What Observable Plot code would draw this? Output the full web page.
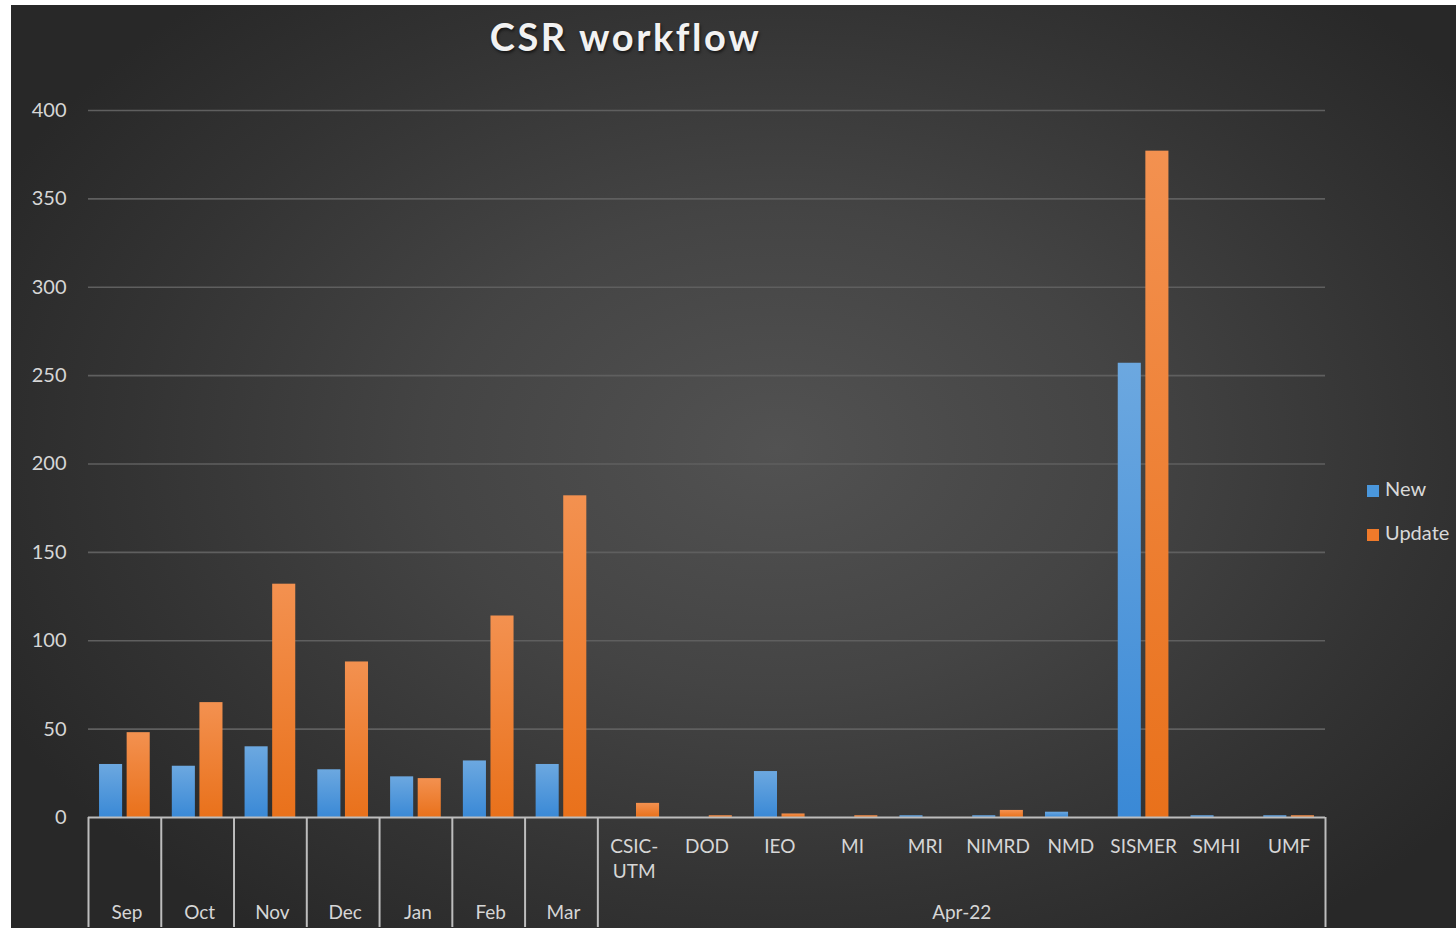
<!DOCTYPE html>
<html>
<head>
<meta charset="utf-8">
<script src="https://cdn.jsdelivr.net/npm/d3@7"></script>
<script src="https://cdn.jsdelivr.net/npm/@observablehq/plot@0.6"></script>
<style>
  html, body { margin: 0; padding: 0; background: #ffffff; }
  #page { position: relative; width: 1456px; height: 935px; overflow: hidden; font-family: Lato, "Open Sans", sans-serif; }
  #bg { position: absolute; left: 11px; top: 5px; width: 1445px; height: 923px;
        background: radial-gradient(ellipse 60% 65% at 53% 48%, #525252 0%, #444444 40%, #333333 75%, #282828 100%); }
  #chart { position: absolute; left: 0; top: 0; }
  #title { position: absolute; left: 0; width: 1251px; top: 14px; text-align: center;
           font-size: 38px; font-weight: 700; letter-spacing: 2.6px; color: #f2f2f2;
           text-shadow: 1px 2px 3px rgba(0,0,0,0.6); line-height: 44px; }
  .leg { position: absolute; left: 1367px; font-size: 20px; color: #d9d9d9; line-height: 24px; white-space: nowrap; }
  .leg span.sw { display: inline-block; width: 12px; height: 12px; margin-right: 6px; vertical-align: -1px; }
</style>
</head>
<body>
<div id="page">
  <div id="bg"></div>
  <div id="title">CSR workflow</div>
  <div id="chart"></div>
</div>
<script>
// ---- data ----
const months = ["Sep", "Oct", "Nov", "Dec", "Jan", "Feb", "Mar"];
const aprKeys = ["CSIC-UTM", "DOD", "IEO", "MI", "MRI", "NIMRD", "NMD", "SISMER", "SMHI", "UMF"];
const aprLabels = ["CSIC-\nUTM", "DOD", "IEO", "MI", "MRI", "NIMRD", "NMD", "SISMER", "SMHI", "UMF"];
const groupLabel = "Apr-22";
const categories = months.concat(aprKeys);
const newValues    = [30, 29, 40, 27, 23, 32, 30,   0, 0, 26, 0, 1, 1, 3, 257, 1, 1];
const updateValues = [48, 65, 132, 88, 22, 114, 182, 8, 1, 2, 1, 0, 4, 0, 377, 0, 1];
const series = ["New", "Update"];
const yTicks = [0, 50, 100, 150, 200, 250, 300, 350, 400];

const rows = categories.map((c, i) => ({category: c, New: newValues[i], Update: updateValues[i]}));

// ---- layout ----
const W = 1456, H = 935;
const mL = 88, mR = 131, mT = 110, mB = 118;
const bw = (W - mL - mR) / categories.length;
const inner = d3.scaleBand().domain(series).range([0, bw]).paddingInner(0.164).paddingOuter(0.4);
const insets = s => ({insetLeft: inner(s), insetRight: bw - inner(s) - inner.bandwidth()});
const frameH = H - mT - mB;

const textColor = "#d6d6d6";
const lineColor = "#bdbdbd";

const chart = Plot.plot({
  width: W, height: H,
  marginLeft: mL, marginRight: mR, marginTop: mT, marginBottom: mB,
  style: {background: "transparent", fontFamily: "Lato, 'Open Sans', sans-serif", fontSize: "20px", color: textColor, overflow: "visible"},
  x: {domain: categories, padding: 0, round: false, axis: null},
  y: {domain: [0, 400], ticks: yTicks, tickSize: 0, tickPadding: 22, label: null},
  marks: [
    Plot.ruleY(yTicks.filter(t => t > 0), {stroke: "#5f5f5f", strokeWidth: 1.6}),
    Plot.barY(rows, {x: "category", y: "New", fill: "url(#gNew)", ...insets("New")}),
    Plot.barY(rows, {x: "category", y: "Update", fill: "url(#gUpd)", ...insets("Update")}),
    Plot.ruleY([0], {stroke: lineColor, strokeWidth: 2}),
    Plot.ruleX(months.concat([aprKeys[0]]), {x: d => d, dx: -bw / 2, insetTop: frameH, insetBottom: -110, stroke: lineColor, strokeWidth: 2}),
    Plot.ruleX([aprKeys[aprKeys.length - 1]], {x: d => d, dx: bw / 2, insetTop: frameH, insetBottom: -110, stroke: lineColor, strokeWidth: 2}),
    Plot.text(months, {x: d => d, text: d => d, frameAnchor: "bottom", dx: 2, dy: 101, fontSize: 19, fill: textColor}),
    Plot.text(aprKeys, {x: d => d, text: (d, i) => aprLabels[i], frameAnchor: "bottom", lineAnchor: "top", dy: 17, lineHeight: 1.35, fontSize: 19, fill: textColor}),
    Plot.text([groupLabel], {x: () => aprKeys[4], dx: bw / 2, text: d => d, frameAnchor: "bottom", dy: 101, fontSize: 19, fill: textColor})
  ]
});

// gradients for Excel-like bar shading
const defs = d3.select(chart).insert("defs", ":first-child");
function grad(id, top, bottom) {
  const g = defs.append("linearGradient").attr("id", id).attr("x1", 0).attr("y1", 0).attr("x2", 0).attr("y2", 1);
  g.append("stop").attr("offset", "0%").attr("stop-color", top);
  g.append("stop").attr("offset", "100%").attr("stop-color", bottom);
}
grad("gNew", "#6ca8e0", "#3a89d6");
grad("gUpd", "#f39150", "#e9711b");

document.getElementById("chart").appendChild(chart);

// legend
const legColors = {New: "#4a97dc", Update: "#ef7a2a"};
const legTops = [476, 520];
series.forEach((s, i) => {
  const d = document.createElement("div");
  d.className = "leg";
  d.style.top = legTops[i] + "px";
  d.innerHTML = `<span class="sw" style="background:${legColors[s]}"></span>${s}`;
  document.getElementById("page").appendChild(d);
});
</script>
</body>
</html>
